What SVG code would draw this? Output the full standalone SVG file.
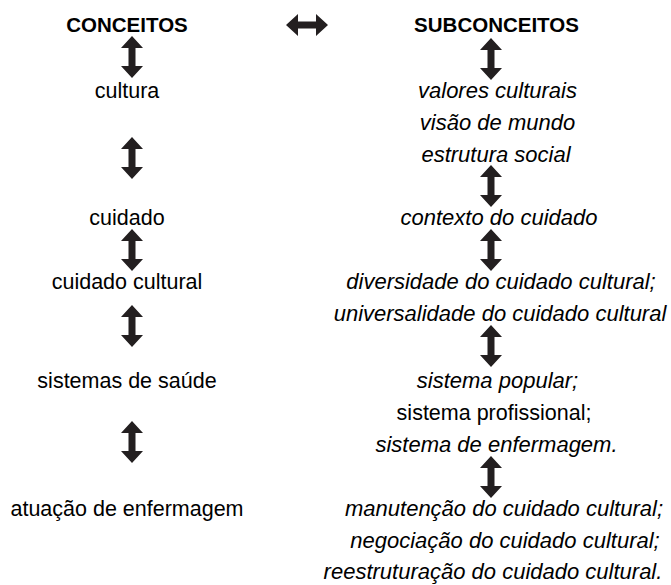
<svg xmlns="http://www.w3.org/2000/svg" xmlns:xlink="http://www.w3.org/1999/xlink" width="671" height="585" viewBox="0 0 671 585">
<style>
text{font-family:"Liberation Sans",Arial,sans-serif;fill:#000;text-anchor:middle}
.h{font-weight:bold;font-size:20.5px}
.r{font-size:21.5px}
.i{font-size:22px;font-style:italic}
.arr{fill:#231f20}
</style>
<defs>
<path id="va" d="M0,0 L11,12 L3.5,12 L3.5,30 L11,30 L0,42 L-11,30 L-3.5,30 L-3.5,12 L-11,12 Z"/>
</defs>
<g id="conceitos"><text class="h" x="127" y="32">CONCEITOS</text></g>
<g id="subconceitos"><text class="h" x="496.5" y="32">SUBCONCEITOS</text></g>
<g id="cultura"><text class="r" x="127" y="98">cultura</text></g>
<g id="cuidado"><text class="r" x="127" y="225">cuidado</text></g>
<g id="cuidado-cultural"><text class="r" x="127" y="289">cuidado cultural</text></g>
<g id="sistemas-saude"><text class="r" x="127" y="388">sistemas de saúde</text></g>
<g id="atuacao"><text class="r" x="127" y="516">atuação de enfermagem</text></g>
<g id="sub-cultura">
<text class="i" x="497.5" y="98">valores culturais</text>
<text class="i" x="497.5" y="130">visão de mundo</text>
<text class="i" x="496" y="162">estrutura social</text>
</g>
<g id="sub-cuidado"><text class="i" x="499" y="225">contexto do cuidado</text></g>
<g id="sub-cuidado-cultural">
<text class="i" x="501" y="289">diversidade do cuidado cultural;</text>
<text class="i" x="500" y="321">universalidade do cuidado cultural</text>
</g>
<g id="sub-sistemas">
<text class="i" x="497.5" y="388">sistema popular;</text>
<text class="r" x="494" y="420">sistema profissional;</text>
<text class="i" x="496.5" y="452">sistema de enfermagem.</text>
</g>
<g id="sub-atuacao">
<text class="i" x="504" y="516">manutenção do cuidado cultural;</text>
<text class="i" x="505" y="548">negociação do cuidado cultural;</text>
<text class="i" x="493" y="579">reestruturação do cuidado cultural.</text>
</g>
<g id="connectors" class="arr">
<use xlink:href="#va" href="#va" transform="translate(307,25) rotate(90) translate(0,-21)"/>
<use xlink:href="#va" href="#va" x="132" y="36"/>
<use xlink:href="#va" href="#va" x="132" y="137"/>
<use xlink:href="#va" href="#va" x="132" y="229"/>
<use xlink:href="#va" href="#va" x="132" y="305"/>
<use xlink:href="#va" href="#va" x="132" y="421"/>
<use xlink:href="#va" href="#va" x="491" y="38"/>
<use xlink:href="#va" href="#va" x="491" y="165"/>
<use xlink:href="#va" href="#va" x="491" y="229"/>
<use xlink:href="#va" href="#va" x="491" y="325"/>
<use xlink:href="#va" href="#va" x="491" y="456"/>
</g>
</svg>
